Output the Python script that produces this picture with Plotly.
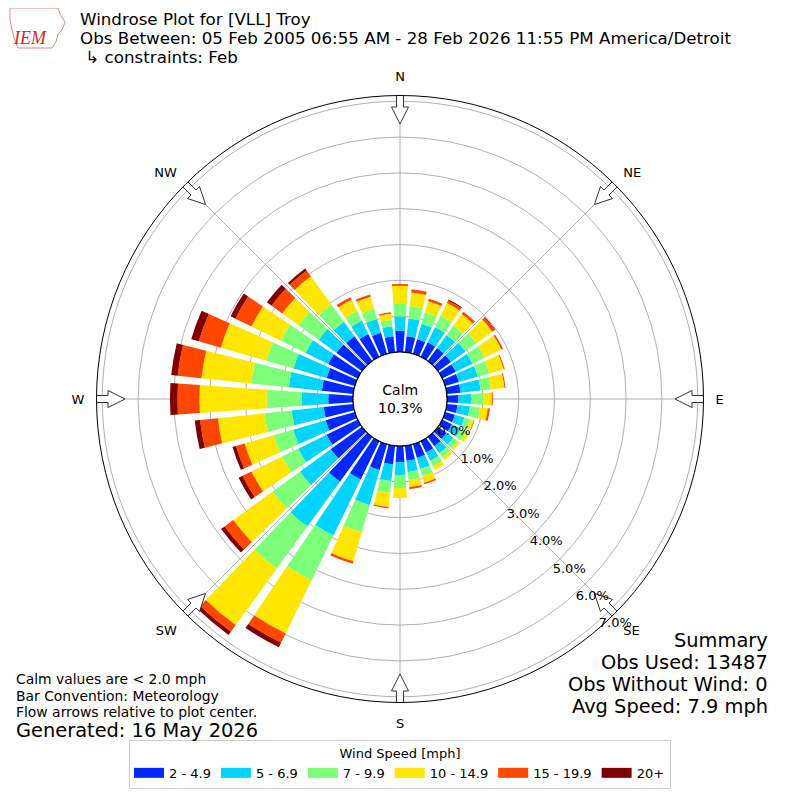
import math
import plotly.graph_objects as go

# ---------------- data ----------------
directions = list(range(0, 360, 10))
speed_bins = ["2 - 4.9", "5 - 6.9", "7 - 9.9", "10 - 14.9", "15 - 19.9", "20+"]
bin_colors = ["#0028ff", "#00d4ff", "#7dff7a", "#ffe600", "#ff4700", "#7f0000"]

# percent of observations per direction (0, 10, ..., 350 deg)
pct_2_5 = [0.60, 0.45, 0.42, 0.45, 0.45, 0.45, 0.42, 0.40, 0.39, 0.32, 0.30, 0.28,
           0.30, 0.30, 0.32, 0.35, 0.40, 0.42, 0.45, 0.52, 0.75, 1.19, 1.54, 1.08,
           0.97, 0.85, 0.83, 0.69, 0.88, 0.82, 0.92, 0.88, 0.85, 0.71, 0.61, 0.45]
pct_5_7 = [0.40, 0.50, 0.45, 0.47, 0.45, 0.50, 0.52, 0.55, 0.56, 0.37, 0.35, 0.28,
           0.27, 0.23, 0.24, 0.26, 0.32, 0.32, 0.37, 0.47, 1.02, 1.74, 1.55, 1.06,
           0.88, 0.94, 0.90, 0.74, 0.93, 0.96, 0.70, 0.62, 0.50, 0.41, 0.40, 0.28]
pct_7_10 = [0.37, 0.35, 0.33, 0.35, 0.32, 0.38, 0.38, 0.33, 0.29, 0.32, 0.28, 0.17,
            0.17, 0.14, 0.15, 0.17, 0.20, 0.22, 0.35, 0.33, 0.79, 1.39, 1.45, 0.95,
            0.50, 0.56, 0.76, 0.98, 1.05, 0.79, 0.77, 0.69, 0.60, 0.30, 0.30, 0.18]
pct_10_15 = [0.48, 0.38, 0.33, 0.40, 0.40, 0.55, 0.52, 0.42, 0.38, 0.24, 0.22, 0.10,
             0.10, 0.08, 0.08, 0.11, 0.20, 0.20, 0.28, 0.40, 0.84, 1.65, 1.95, 1.35,
             0.95, 0.85, 1.31, 1.88, 1.40, 1.32, 0.91, 0.56, 0.97, 0.35, 0.35, 0.17]
pct_15_20 = [0.05, 0.09, 0.07, 0.08, 0.08, 0.08, 0.05, 0.03, 0.03, 0.03, 0.06, 0.02,
             0.00, 0.00, 0.00, 0.00, 0.04, 0.06, 0.00, 0.04, 0.07, 0.29, 0.23, 0.30,
             0.28, 0.25, 0.50, 0.61, 0.67, 0.64, 0.50, 0.37, 0.20, 0.08, 0.06, 0.04]
pct_20p = [0.00, 0.00, 0.00, 0.03, 0.00, 0.02, 0.00, 0.00, 0.00, 0.00, 0.00, 0.00,
           0.00, 0.00, 0.00, 0.00, 0.00, 0.00, 0.00, 0.00, 0.00, 0.14, 0.11, 0.12,
           0.12, 0.10, 0.15, 0.21, 0.18, 0.22, 0.15, 0.16, 0.07, 0.00, 0.00, 0.00]
series = [pct_2_5, pct_5_7, pct_7_10, pct_10_15, pct_15_20, pct_20p]

compass_angles = [0, 45, 90, 135, 180, 225, 270, 315]
compass_labels = ["N", "NE", "E", "SE", "S", "SW", "W", "NW"]
radial_ticks = [0, 1, 2, 3, 4, 5, 6, 7]
radial_labels = ["%.1f%%" % v for v in radial_ticks]
calm_pct = 10.3

# ---------------- geometry / style ----------------
OFF = 8                    # browser body margin
W = H = 800 - OFF
CX, CY = 400 - OFF, 399 - OFF   # polar centre in figure pixels
OUTER_PX = 303.5
HOLE_PX = 47.0
RMAX = 7.16
PXU = (OUTER_PX - HOLE_PX) / RMAX
FONT = "DejaVu Sans"

fig = go.Figure()

for name, col, vals in zip(speed_bins, bin_colors, series):
    fig.add_trace(go.Barpolar(
        r=vals, theta=directions, width=[8] * len(directions),
        name=name, legendgroup=name, showlegend=False,
        marker=dict(color=col, line=dict(width=0)),
        hoverinfo="skip",
    ))
    # legend key drawn as a wide patch
    fig.add_trace(go.Scatterpolar(
        r=[None], theta=[None], mode="lines", name=name, legendgroup=name,
        line=dict(color=col, width=10), hoverinfo="skip"))

# calm circle outline (r = 0 sits on the hole edge)
fig.add_trace(go.Scatterpolar(
    r=[0] * 361, theta=list(range(361)), mode="lines",
    line=dict(color="black", width=1.3), showlegend=False, hoverinfo="skip"))


def arrow_shape(compass):
    pts = [(306, -3.5), (292, -3.5), (292, -8.5), (275, 0), (292, 8.5),
           (292, 3.5), (306, 3.5), (306, -3.5)]
    rs, ts = [], []
    for a, c in pts:
        R = math.hypot(a, c)
        rs.append((R - HOLE_PX) / PXU)
        ts.append(compass + math.degrees(math.atan2(c, a)))
    return rs, ts


for ang in compass_angles:
    rs, ts = arrow_shape(ang)
    fig.add_trace(go.Scatterpolar(
        r=rs, theta=ts, mode="lines", fill="toself", fillcolor="white",
        line=dict(color="#333333", width=1), showlegend=False, hoverinfo="skip"))

dx0 = (CX - OUTER_PX) / W
dx1 = (CX + OUTER_PX) / W
dy0 = (H - CY - OUTER_PX) / H
dy1 = (H - CY + OUTER_PX) / H

RAX_ANGLE = -50


def px(x, y):
    """reference-screenshot pixel -> paper fraction"""
    return (x - OFF) / W, 1 - (y - OFF) / H


# logo outline (stand-in for the IEM state logo)
logo_pts = [(10, 8), (58, 8), (60, 14), (65, 22), (62, 30), (58, 34), (56, 42),
            (52, 48), (18, 48), (14, 38), (10, 20)]
path = "M " + " L ".join("%.4f,%.4f" % px(x, y) for x, y in logo_pts) + " Z"

fig.update_layout(
    width=W, height=H,
    margin=dict(l=0, r=0, t=0, b=0, autoexpand=False),
    paper_bgcolor="white",
    font=dict(family=FONT, size=13, color="black"),
    shapes=[dict(type="path", xref="paper", yref="paper", path=path,
                 line=dict(color="#e88080", width=1))],
    polar=dict(
        domain=dict(x=[dx0, dx1], y=[dy0, dy1]),
        bgcolor="white",
        hole=HOLE_PX / OUTER_PX,
        barmode="stack",
        angularaxis=dict(
            rotation=90, direction="clockwise",
            tickmode="array", tickvals=compass_angles, ticktext=compass_labels,
            showgrid=True, gridcolor="#b0b0b0", gridwidth=1,
            showline=True, linecolor="black", linewidth=1,
            ticks="outside", ticklen=9, tickcolor="rgba(0,0,0,0)",
            tickfont=dict(size=13, family=FONT),
        ),
        radialaxis=dict(
            range=[0, RMAX], tickmode="array", tickvals=radial_ticks,
            ticktext=radial_labels, showline=False, showgrid=True,
            gridcolor="#b0b0b0", gridwidth=1, angle=RAX_ANGLE,
            tickangle=RAX_ANGLE, side="counterclockwise", ticks="",
            tickfont=dict(size=13, family=FONT),
        ),
    ),
    legend=dict(
        orientation="h", x=(400 - OFF) / W, xanchor="center",
        y=1 - (789 - OFF) / H, yanchor="bottom",
        bordercolor="#cccccc", borderwidth=1, bgcolor="white",
        font=dict(size=13, family=FONT),
        title=dict(text="Wind Speed [mph]", side="top center",
                   font=dict(size=13, family=FONT)),
        itemclick=False, itemdoubleclick=False,
    ),
)


def px_ann(text, x, y, size, xanchor="left", yanchor="middle", align="left",
           color="black", family=FONT):
    # x, y are pixel positions in the 800x800 reference screenshot
    fx = x
    if xanchor == "left":
        fx -= 2
    elif xanchor == "right":
        fx += 2
    ax, ay = px(fx, y)
    fig.add_annotation(text=text, x=ax, y=ay, xref="paper", yref="paper",
                       xanchor=xanchor, yanchor=yanchor, align=align,
                       showarrow=False,
                       font=dict(size=size, color=color, family=family))


# title block
px_ann("Windrose Plot for [VLL] Troy", 80, 19, 16.7)
px_ann("Obs Between: 05 Feb 2005 06:55 AM - 28 Feb 2026 11:55 PM America/Detroit", 80, 38, 16.7)
px_ann(" \u21b3 constraints: Feb", 80, 57, 16.7)

# logo stand-in
px_ann("<i>IEM</i>", 30, 38, 18, xanchor="center", color="#d62728", family="Liberation Serif")

# centre text
px_ann("Calm<br>%.1f%%" % calm_pct, 400, 399, 14, xanchor="center", align="center")

# bottom-left notes
px_ann("Calm values are < 2.0 mph", 16, 679, 13.9)
px_ann("Bar Convention: Meteorology", 16, 695.5, 13.9)
px_ann("Flow arrows relative to plot center.", 16, 712, 13.9)
px_ann("Generated: 16 May 2026", 16, 730, 19.4)

# summary block
px_ann("Summary", 768, 640, 19.4, xanchor="right")
px_ann("Obs Used: 13487", 768, 662, 19.4, xanchor="right")
px_ann("Obs Without Wind: 0", 768, 684, 19.4, xanchor="right")
px_ann("Avg Speed: 7.9 mph", 768, 706, 19.4, xanchor="right")

fig.write_html("out.html")
